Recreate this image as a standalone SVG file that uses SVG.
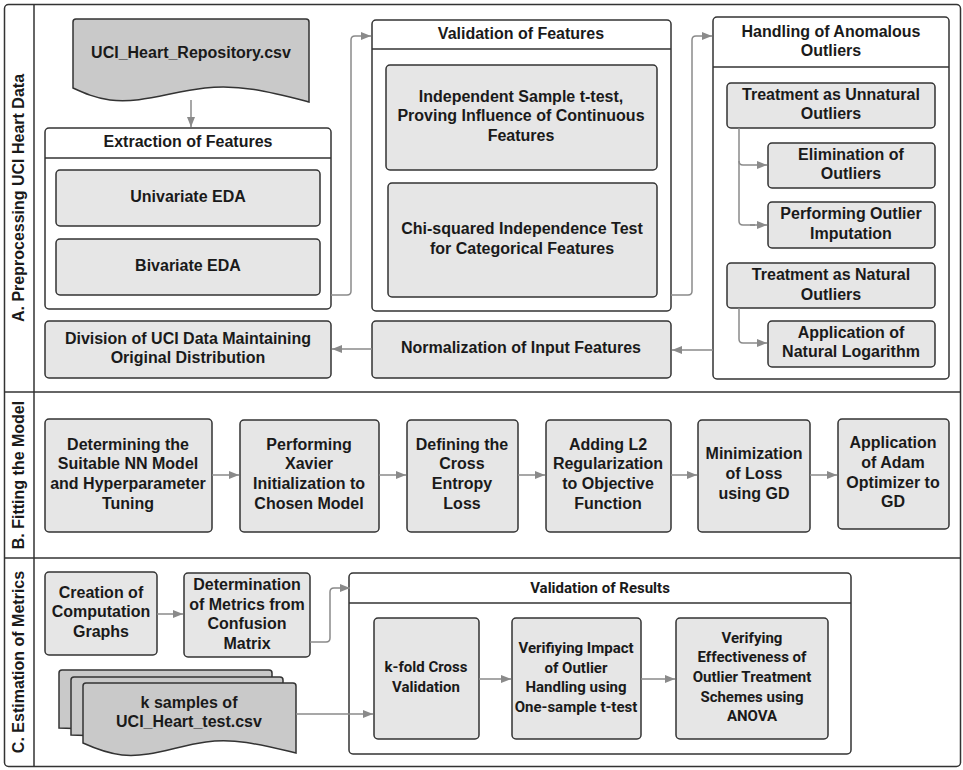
<svg xmlns="http://www.w3.org/2000/svg" width="963" height="770" viewBox="0 0 963 770">
<defs>
<marker id="ah" markerUnits="userSpaceOnUse" markerWidth="11" markerHeight="9" refX="10" refY="4.5" orient="auto"><path d="M0,0.5 L10,4.5 L0,8.5 z" fill="#8a8a8a"/></marker>
<style>
.frame{fill:#fff;stroke:#333;stroke-width:1.5}
.line{stroke:#333;stroke-width:1.5;fill:none}
.box{fill:#e6e6e6;stroke:#333;stroke-width:1.5}
.cont{fill:#fff;stroke:#333;stroke-width:1.5}
.doc{fill:#c9c9c9;stroke:#333;stroke-width:1.5}
.t{font-family:"Liberation Sans",Arial,sans-serif;font-weight:bold;font-size:16px;fill:#1a1a1a;text-anchor:middle}
.r{font-family:Roboto,"Liberation Sans",sans-serif;font-size:15px}
.conn{fill:none;stroke:#8a8a8a;stroke-width:1.5;marker-end:url(#ah)}
.plain{fill:none;stroke:#8a8a8a;stroke-width:1.5}
</style>
</defs>
<rect class="frame" x="4.5" y="4.5" width="956" height="762" rx="4"/>
<line class="line" x1="34" y1="4.5" x2="34" y2="766.5"/>
<line class="line" x1="4.5" y1="392" x2="960.5" y2="392"/>
<line class="line" x1="4.5" y1="558" x2="960.5" y2="558"/>
<g id="labels">
<text class="t" transform="translate(24,198) rotate(-90)">A. Preprocessing UCI Heart Data</text>
<text class="t" transform="translate(24,475) rotate(-90)">B. Fitting the Model</text>
<text class="t" transform="translate(24,662) rotate(-90)">C. Estimation of Metrics</text>
</g>
<g id="uci-repo">
<path class="doc" d="M76,19 H306 Q309,19 309,22 V102 C270,92 240,84 205,88 C170,92 140,104 110,100 C95,98 84,93 73,88 V22 Q73,19 76,19 Z"/>
<text class="t" x="191" y="58">UCI_Heart_Repository.csv</text>
</g>
<g id="extraction">
<rect class="cont" x="45" y="128" width="286" height="181" rx="4"/>
<line class="line" x1="45" y1="158" x2="331" y2="158"/>
<text class="t" x="188" y="147">Extraction of Features</text>
</g>
<g id="univariate">
<rect class="box" x="56" y="170" width="264" height="56" rx="4"/>
<text class="t" x="188" y="202">Univariate EDA</text>
</g>
<g id="bivariate">
<rect class="box" x="56" y="239" width="264" height="56" rx="4"/>
<text class="t" x="188" y="271">Bivariate EDA</text>
</g>
<g id="division">
<rect class="box" x="45" y="321" width="286" height="57" rx="4"/>
<text class="t" x="188" y="344">Division of UCI Data Maintaining</text>
<text class="t" x="188" y="363">Original Distribution</text>
</g>
<g id="validation-features">
<rect class="cont" x="372" y="20" width="299" height="291" rx="4"/>
<line class="line" x1="372" y1="49" x2="671" y2="49"/>
<text class="t" x="521" y="39">Validation of Features</text>
</g>
<g id="ttest">
<rect class="box" x="386" y="65" width="271" height="105" rx="4"/>
<text class="t" x="521" y="102">Independent Sample t-test,</text>
<text class="t" x="521" y="121">Proving Influence of Continuous</text>
<text class="t" x="521" y="141">Features</text>
</g>
<g id="chisq">
<rect class="box" x="388" y="183" width="269" height="114" rx="4"/>
<text class="t" x="522" y="234">Chi-squared Independence Test</text>
<text class="t" x="522" y="254">for Categorical Features</text>
</g>
<g id="normalization">
<rect class="box" x="372" y="321" width="299" height="57" rx="4"/>
<text class="t" x="521" y="353">Normalization of Input Features</text>
</g>
<g id="handling">
<rect class="cont" x="713" y="17" width="236" height="362" rx="4"/>
<line class="line" x1="713" y1="67" x2="949" y2="67"/>
<text class="t" x="831" y="37">Handling of Anomalous</text>
<text class="t" x="831" y="56">Outliers</text>
</g>
<g id="unnatural">
<rect class="box" x="727" y="83" width="208" height="45" rx="4"/>
<text class="t" x="831" y="100">Treatment as Unnatural</text>
<text class="t" x="831" y="119">Outliers</text>
</g>
<g id="elimination">
<rect class="box" x="768" y="143" width="167" height="45" rx="4"/>
<text class="t" x="851" y="160">Elimination of</text>
<text class="t" x="851" y="179">Outliers</text>
</g>
<g id="imputation">
<rect class="box" x="768" y="202" width="167" height="46" rx="4"/>
<text class="t" x="851" y="219">Performing Outlier</text>
<text class="t" x="851" y="239">Imputation</text>
</g>
<g id="natural">
<rect class="box" x="727" y="263" width="208" height="45" rx="4"/>
<text class="t" x="831" y="280">Treatment as Natural</text>
<text class="t" x="831" y="300">Outliers</text>
</g>
<g id="logarithm">
<rect class="box" x="768" y="321" width="167" height="46" rx="4"/>
<text class="t" x="851" y="338">Application of</text>
<text class="t" x="851" y="357">Natural Logarithm</text>
</g>
<g id="nn-model">
<rect class="box" x="45" y="419" width="167" height="113" rx="4"/>
<text class="t" x="128" y="450">Determining the</text>
<text class="t" x="128" y="469">Suitable NN Model</text>
<text class="t" x="128" y="489">and Hyperparameter</text>
<text class="t" x="128" y="509">Tuning</text>
</g>
<g id="xavier">
<rect class="box" x="240" y="420" width="139" height="112" rx="4"/>
<text class="t" x="309" y="450">Performing</text>
<text class="t" x="309" y="469">Xavier</text>
<text class="t" x="309" y="489">Initialization to</text>
<text class="t" x="309" y="509">Chosen Model</text>
</g>
<g id="cross-entropy">
<rect class="box" x="407" y="420" width="111" height="112" rx="4"/>
<text class="t" x="462" y="450">Defining the</text>
<text class="t" x="462" y="469">Cross</text>
<text class="t" x="462" y="489">Entropy</text>
<text class="t" x="462" y="509">Loss</text>
</g>
<g id="l2">
<rect class="box" x="546" y="420" width="125" height="112" rx="4"/>
<text class="t" x="608" y="450">Adding L2</text>
<text class="t" x="608" y="469">Regularization</text>
<text class="t" x="608" y="489">to Objective</text>
<text class="t" x="608" y="509">Function</text>
</g>
<g id="minimization">
<rect class="box" x="698" y="420" width="112" height="112" rx="4"/>
<text class="t" x="754" y="459">Minimization</text>
<text class="t" x="754" y="479">of Loss</text>
<text class="t" x="754" y="499">using GD</text>
</g>
<g id="adam">
<rect class="box" x="838" y="419" width="111" height="110" rx="4"/>
<text class="t" x="893" y="448">Application</text>
<text class="t" x="893" y="468">of Adam</text>
<text class="t" x="893" y="488">Optimizer to</text>
<text class="t" x="893" y="507">GD</text>
</g>
<g id="computation-graphs">
<rect class="box" x="45" y="572" width="112" height="83" rx="4"/>
<text class="t" x="101" y="598">Creation of</text>
<text class="t" x="101" y="617">Computation</text>
<text class="t" x="101" y="637">Graphs</text>
</g>
<g id="metrics">
<rect class="box" x="184" y="573" width="126" height="84" rx="4"/>
<text class="t" x="247" y="590">Determination</text>
<text class="t" x="247" y="610">of Metrics from</text>
<text class="t" x="247" y="629">Confusion</text>
<text class="t" x="247" y="649">Matrix</text>
</g>
<g id="k-samples">
<path class="doc" d="M62,670 H269 Q272,670 272,673 V735 L59,728 V673 Q59,670 62,670 Z"/>
<path class="doc" d="M74,677 H280 Q283,677 283,680 V742 L71,735 V680 Q71,677 74,677 Z"/>
<path class="doc" d="M86,683 H293 Q296,683 296,686 V753 C262,745 236,738 206,742 C176,746 150,758 122,755 C106,753 94,748 83,743 V686 Q83,683 86,683 Z"/>
<text class="t" x="189" y="708">k samples of</text>
<text class="t" x="189" y="727">UCI_Heart_test.csv</text>
</g>
<g id="validation-results">
<rect class="cont" x="349" y="573" width="502" height="181" rx="4"/>
<line class="line" x1="349" y1="603" x2="851" y2="603"/>
<text class="t r" x="600" y="593">Validation of Results</text>
</g>
<g id="kfold">
<rect class="box" x="374" y="618" width="105" height="121" rx="4"/>
<text class="t r" x="426" y="672">k-fold Cross</text>
<text class="t r" x="426" y="692">Validation</text>
</g>
<g id="one-sample">
<rect class="box" x="512" y="618" width="129" height="121" rx="4"/>
<text class="t r" x="576" y="653">Verifiying Impact</text>
<text class="t r" x="576" y="673">of Outlier</text>
<text class="t r" x="576" y="692">Handling using</text>
<text class="t r" x="576" y="712">One-sample t-test</text>
</g>
<g id="anova">
<rect class="box" x="676" y="618" width="152" height="121" rx="4"/>
<text class="t r" x="752" y="643">Verifying</text>
<text class="t r" x="752" y="662">Effectiveness of</text>
<text class="t r" x="752" y="682">Outlier Treatment</text>
<text class="t r" x="752" y="702">Schemes using</text>
<text class="t r" x="752" y="721">ANOVA</text>
</g>
<g id="connectors">
<line class="conn" x1="191" y1="100" x2="191" y2="127"/>
<path class="conn" d="M331,295 H347 Q351,295 351,291 V40 Q351,36 355,36 H371"/>
<path class="conn" d="M671,295 H688 Q692,295 692,291 V40 Q692,36 696,36 H712"/>
<path class="plain" d="M739,128 V221 Q739,225 743,225 H755"/>
<path class="conn" d="M739,161 Q739,165 743,165 H767"/>
<line class="conn" x1="750" y1="225" x2="767" y2="225"/>
<path class="conn" d="M739,308 V339 Q739,343 743,343 H767"/>
<line class="conn" x1="713" y1="350" x2="672" y2="350"/>
<line class="conn" x1="372" y1="349" x2="332" y2="349"/>
<line class="conn" x1="212" y1="475" x2="239" y2="475"/>
<line class="conn" x1="379" y1="475" x2="406" y2="475"/>
<line class="conn" x1="518" y1="475" x2="545" y2="475"/>
<line class="conn" x1="671" y1="475" x2="697" y2="475"/>
<line class="conn" x1="810" y1="475" x2="837" y2="475"/>
<line class="conn" x1="157" y1="614" x2="183" y2="614"/>
<path class="conn" d="M310,642 H326 Q330,642 330,638 V592 Q330,588 334,588 H350"/>
<line class="conn" x1="296" y1="714" x2="373" y2="714"/>
<line class="conn" x1="479" y1="679" x2="511" y2="679"/>
<line class="conn" x1="641" y1="679" x2="675" y2="679"/>
</g>
</svg>
